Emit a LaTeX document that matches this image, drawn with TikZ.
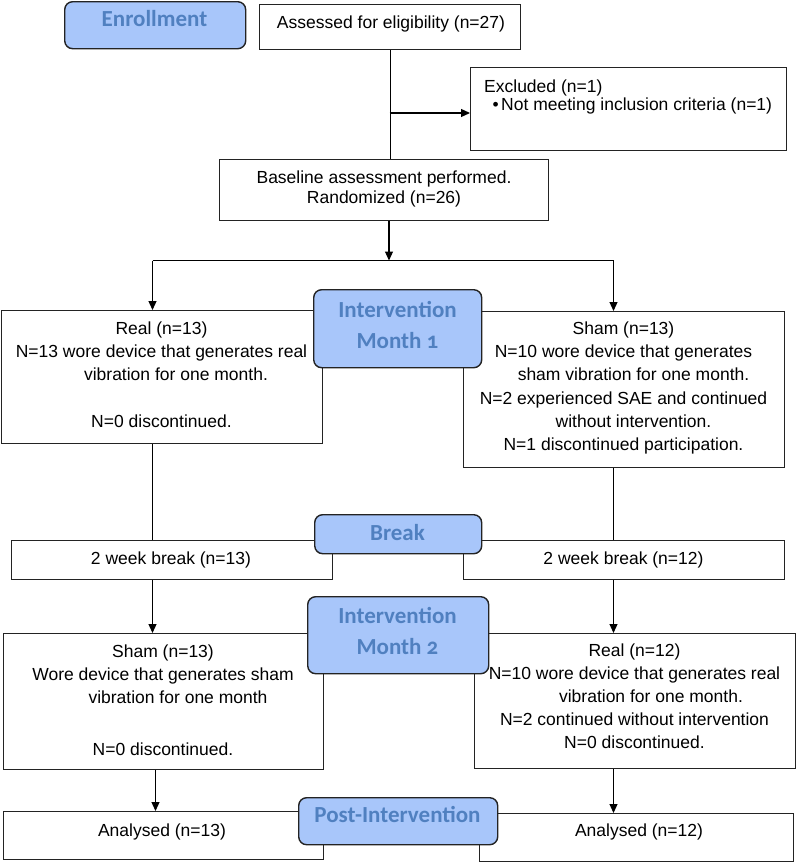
\documentclass[tikz,border=0pt]{standalone}
\usepackage{fontspec}
\setmainfont{Liberation Sans}
\newfontfamily\lblfont[Numbers=OldStyle]{Carlito}
\usetikzlibrary{arrows.meta}
\definecolor{lblfill}{RGB}{168,198,250}
\definecolor{lbltext}{RGB}{80,128,192}
\definecolor{boxline}{RGB}{35,35,35}
\begin{document}
\begin{tikzpicture}[x=1pt,y=-1pt,
  box/.style={draw=boxline, line width=1.4pt, fill=white, inner sep=0pt, anchor=north west},
  lblbox/.style={draw=boxline, line width=1.4pt, fill=lblfill, rounded corners=8pt, inner sep=0pt, anchor=north west},
  txt/.style={inner sep=0pt, font=\fontsize{17.5}{23.3}\selectfont},
  txtml/.style={inner sep=0pt, align=center, anchor=north, font=\fontsize{17.5}{23.3}\selectfont},
  lbltxt/.style={inner sep=0pt, text=lbltext, font=\lblfont\bfseries\fontsize{23}{31}\selectfont},
  conn/.style={draw=black, line width=1.2pt},
  arr/.style={conn, -{Triangle[length=9pt,width=8pt]}}
]
\useasboundingbox (0,0) rectangle (800,862);

% ---------- boxes ----------
\node[box, minimum width=261pt, minimum height=45pt] (assess) at (259,4) {};
\node[box, minimum width=316pt, minimum height=83pt] (excl) at (470,67) {};
\node[box, minimum width=329pt, minimum height=61pt] (base) at (219,159) {};
\node[box, minimum width=321pt, minimum height=133pt] (real1) at (1,310) {};
\node[box, minimum width=321pt, minimum height=156pt] (sham1) at (463,311) {};
\node[box, minimum width=321pt, minimum height=39pt] (brkL) at (11,540) {};
\node[box, minimum width=321pt, minimum height=39pt] (brkR) at (463,540) {};
\node[box, minimum width=320pt, minimum height=136pt] (sham2) at (3,633) {};
\node[box, minimum width=321pt, minimum height=135pt] (real2) at (474,633) {};
\node[box, minimum width=320pt, minimum height=48pt] (anL) at (3,811) {};
\node[box, minimum width=314pt, minimum height=48pt] (anR) at (479,813) {};

% ---------- connectors ----------
\coordinate (j1) at (389.5,113);
\coordinate (split) at (389,260.5);
\coordinate (splitL) at (152.5,260.5);
\coordinate (splitR) at (613.5,260.5);
\coordinate (colL2) at (155.5,0);

\draw[conn] (assess.south) -- (assess.south |- base.north);
\draw[arr] (j1) -- (j1 -| excl.west);
\draw[arr] (split |- base.south) -- (split);
\draw[conn] (splitL) -- (splitR);
\draw[arr] (splitL) -- (splitL |- real1.north);
\draw[arr] (splitR) -- (splitR |- sham1.north);
\draw[conn] (real1.south -| splitL) -- (brkL.north -| splitL);
\draw[conn] (sham1.south -| splitR) -- (brkR.north -| splitR);
\draw[arr] (brkL.south -| splitL) -- (sham2.north -| splitL);
\draw[arr] (brkR.south -| splitR) -- (real2.north -| splitR);
\draw[arr] (sham2.south -| colL2) -- (anL.north -| colL2);
\draw[arr] (real2.south -| splitR) -- (anR.north -| splitR);

% ---------- box texts ----------
\node[txt, anchor=base] (assessT) at (391,28.3) {Assessed for eligibility (n=27)};
\node[txt, anchor=base west] (exclT1) at (484,92) {Excluded (n=1)};
\node[txt, anchor=base west] (exclB) at (492.5,110) {\textbullet};
\node[txt, anchor=base west] (exclT2) at (501,110) {Not meeting inclusion criteria (n=1)};
\node[txtml, font=\fontsize{17.5}{20.5}\selectfont] (baseT) at (384,168.65)
  {\strut Baseline assessment performed.\\Randomized (n=26)};
\node[txtml] (real1T) at (161.5,317.7)
  {\strut Real (n=13)\\N=13 wore device that generates real\\\hspace*{29pt}vibration for one month.\\[23.3pt]N=0 discontinued.};
\node[txtml] (sham1T) at (623.5,317.7)
  {\strut Sham (n=13)\\N=10 wore device that generates\\\hspace*{20pt}sham vibration for one month.\\N=2 experienced SAE and continued\\\hspace*{20pt}without intervention.\\N=1 discontinued participation.};
\node[txt, anchor=base] (brkLT) at (171,564) {2 week break (n=13)};
\node[txt, anchor=base] (brkRT) at (623.5,564) {2 week break (n=12)};
\node[txtml] (sham2T) at (163,640.7)
  {\strut Sham (n=13)\\Wore device that generates sham\\\hspace*{30pt}vibration for one month\\[28.6pt]N=0 discontinued.};
\node[txtml, font=\fontsize{17.5}{23}\selectfont] (real2T) at (634.5,640.6)
  {\strut Real (n=12)\\N=10 wore device that generates real\\\hspace*{33pt}vibration for one month.\\N=2 continued without intervention\\N=0 discontinued.};
\node[txt, anchor=base] (anLT) at (162,836) {Analysed (n=13)};
\node[txt, anchor=base] (anRT) at (639,836.5) {Analysed (n=12)};

% ---------- stage labels ----------
\node[lblbox, minimum width=181pt, minimum height=47pt] (enroll) at (64,1) {};
\node[lblbox, minimum width=168pt, minimum height=78pt] (int1) at (313,289) {};
\node[lblbox, minimum width=167pt, minimum height=39pt] (brk) at (314,514) {};
\node[lblbox, minimum width=181pt, minimum height=77pt] (int2) at (307,596) {};
\node[lblbox, minimum width=199pt, minimum height=47pt] (post) at (298,797) {};

\node[lbltxt, anchor=base] (enrollT) at (154.5,27) {Enrollment};
\node[lbltxt, align=center, anchor=north] (int1T) at (397.5,295.6) {\strut Intervention\\Month 1};
\node[lbltxt, anchor=base] (brkT) at (397.5,540.7) {Break};
\node[lbltxt, align=center, anchor=north] (int2T) at (397.5,601.6) {\strut Intervention\\Month 2};
\node[lbltxt, anchor=base] (postT) at (397.5,822.7) {Post-Intervention};
\end{tikzpicture}
\end{document}
